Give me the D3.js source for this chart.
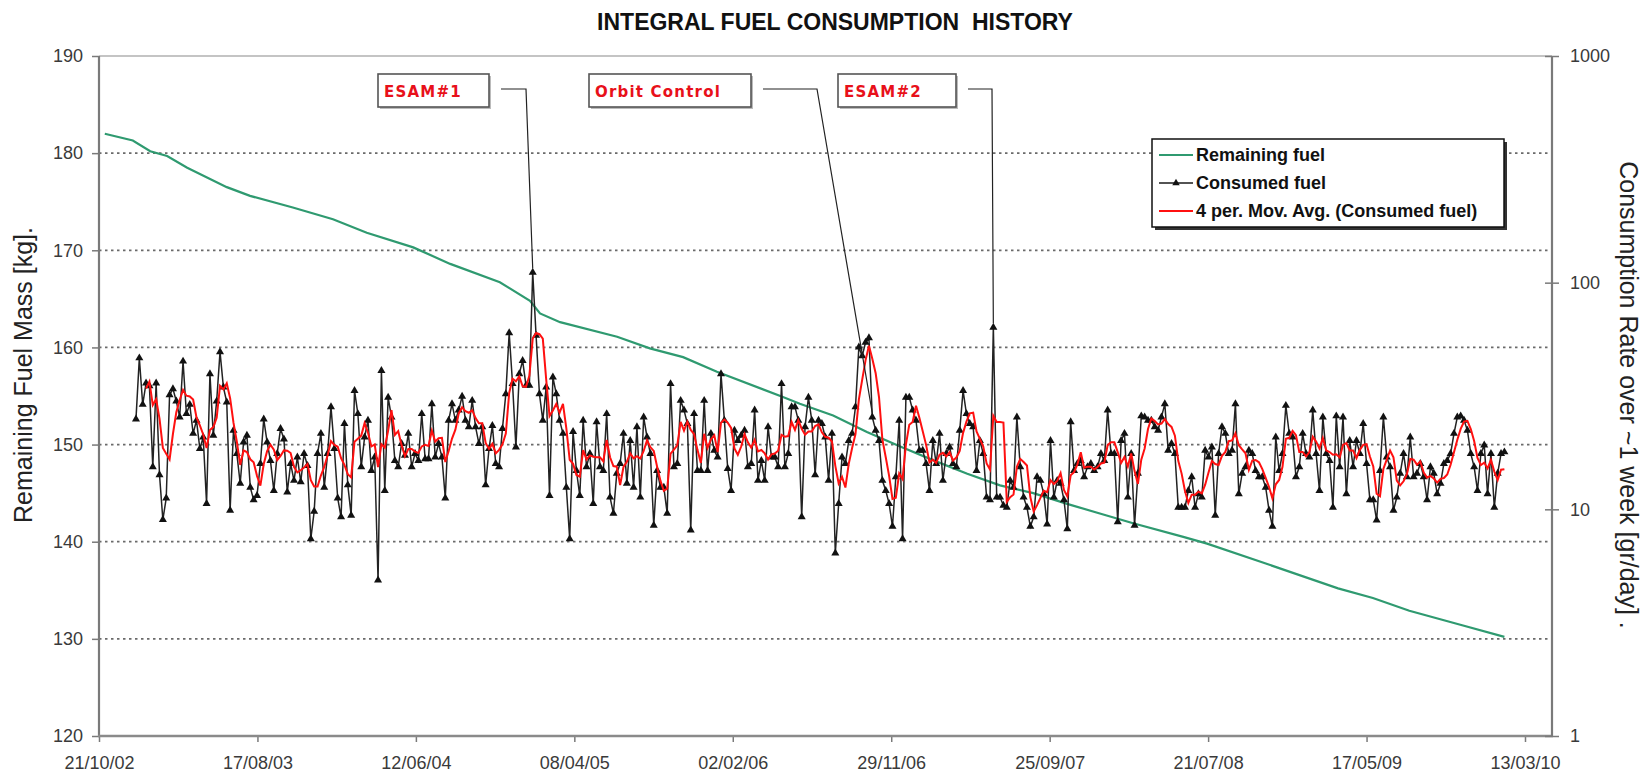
<!DOCTYPE html>
<html><head><meta charset="utf-8">
<script src="https://cdn.jsdelivr.net/npm/d3@7"></script>
<style>
body{margin:0;background:#fff;}
svg{display:block;font-family:"Liberation Sans",Arial,sans-serif;}
</style></head><body>
<svg id="chart" width="1645" height="772"></svg>
<script>
// ---------- DATA ----------
const titleText = "INTEGRAL FUEL CONSUMPTION  HISTORY";
const leftTitle = "Remaining Fuel Mass [kg].";
const rightTitle = "Consumption Rate over ~1 week [gr/day] .";
const leftTicks = [120,130,140,150,160,170,180,190];
const gridValues = [130,140,150,160,170,180];
const rightTicks = [1,10,100,1000];
const xTickLabels = ["21/10/02","17/08/03","12/06/04","08/04/05","02/02/06","29/11/06","25/09/07","21/07/08","17/05/09","13/03/10"];
const seriesNames = ["Remaining fuel","Consumed fuel","4 per. Mov. Avg. (Consumed fuel)"];

const remainingDates = ["2002-11-01","2002-12-24","2003-01-26","2003-02-27","2003-04-06","2003-06-20","2003-08-03","2003-10-23","2004-01-07","2004-03-11","2004-06-07","2004-08-16","2004-11-18","2005-01-14","2005-02-02","2005-03-12","2005-06-28","2005-08-29","2005-10-31","2006-01-03","2006-05-08","2006-06-09","2006-08-11","2006-10-14","2006-12-16","2007-02-16","2007-04-22","2007-06-23","2007-08-25","2007-10-28","2007-12-29","2008-03-01","2008-06-04","2008-07-19","2008-11-10","2009-03-24","2009-05-29","2009-08-06","2009-11-14","2010-02-02"];
const remainingFuel = [182.0,181.3,180.2,179.7,178.5,176.5,175.6,174.4,173.2,171.8,170.3,168.6,166.7,164.8,163.5,162.6,161.1,159.9,159.0,157.5,154.9,154.2,153.0,151.3,149.8,148.4,147.0,145.8,145.0,143.9,142.9,141.9,140.5,139.8,137.7,135.2,134.2,132.9,131.4,130.2];

// consumed fuel readings (gr/day), evenly spaced from first to last reading date
const consumedFirst = "2002-12-30";
const consumedLast = "2010-02-02";
const consumedFuel = [
25.0,46.5,29,36,35,15.4,36,14.2,9.0,11.2,
32,34,30,25.5,45,26.4,29,21.6,24.7,18.5,
20.8,10.6,39.6,21.2,30,49.5,34.6,29.7,9.9,22.3,
17.6,13,19.8,21.2,12.5,11,11.5,15.9,25,19.8,
16.4,12.1,17.6,22.7,20.4,11.9,15.9,13.4,17,13.2,
17.6,15.6,7.4,9.8,17.6,21.6,12.5,17.6,28.3,18.5,
11.2,9.25,23.9,12.8,9.4,33.4,26.4,15.4,20.8,24.7,
14.8,17,4.87,40.9,12.1,31.2,25.5,16.4,15.4,19.5,
17.3,21.6,15.4,17.6,16.4,26.4,16.7,16.7,29.2,17,
19.5,17,11.2,24.7,29.2,24.7,
27.4,31.5,24.7,23.1,30.2,23.1,19.5,23.1,12.8,18.5,
23.4,15.9,15.4,22.7,32.3,60,35.8,18.8,39.6,45.3,
35.2,35.2,111,58.5,32.3,24.7,34.6,11.5,38.3,32.3,
24.7,21.6,12.5,7.4,22,14.8,11.5,24.7,15.4,17.6,
10.6,24.3,15.4,14.8,26.4,11.3,9.6,14.4,15.9,21.6,
13,20.1,12.5,23.1,11.3,25.5,20.8,17.6,8.5,14.8,
12.5,12.5,9.6,35.8,15.4,15.9,30.2,27.4,23.9,8.1,
26.4,14.8,14.8,30.2,14.8,21.6,18.2,17,39.6,24.7,
15.1,12.1,22.3,20.1,21.2,22.3,15.4,15.9,27.4,13.4,
16.4,13.4,23.1,17,17,15.4,35.8,15.4,17.6,28.3,
28.3,24.7,9.25,23.1,31.2,24.7,14.2,24.7,23.9,20.8,
13.4,21.6,6.4,10.6,17,15.9,20.1,21.6,28.3,51.9,
47.5,54.5,57,25.5,22.3,20.1,13.4,12.1,10.6,8.4,
13.9,24.7,7.4,31.2,31.2,27.4,24.7,18.2,18.2,15.9,
12.1,20.1,15.9,21.6,13.4,17.6,18.8,15.9,15.4,22.3,
33.4,26.4,23.9,23.1,14.8,20.1,17.6,11.3,11,63.5,
11.3,11.3,10.4,10.2,13.4,12.5,25.5,15.4,11.3,10.2,
8.4,9.25,13.9,13.4,11.7,8.6,20.1,11.3,13.4,13,
11,8.2,24.3,14.8,15.9,16.4,13.9,15.4,15.9,14.8,
15.4,17.6,16.4,27.4,17.6,17.6,8.8,20.1,21.6,11.3,
17.6,8.5,14.4,25.8,25.5,24.7,
24.7,23.1,22.3,25.5,29.2,18.2,19.5,17.6,10.2,10.2,
10.2,12.1,13.9,10.2,11.7,11.3,18.2,17,18.8,9.4,
17.6,23.1,21.6,17.6,18.2,29.2,11.7,14.4,15.4,18.2,
17.6,14.8,13.9,13.9,12.5,9.9,8.4,20.8,14.8,17.6,
28.7,21.6,20.8,13.9,15.4,21.6,17.6,17,27.4,17.6,
12.1,25.5,17.6,16.4,10.2,25.8,15.4,25.5,11.7,20.1,
15.4,20.1,17.6,23.9,15.9,11,11,8.95,14.8,25.5,
17,15.4,9.9,11.3,14.4,17.6,13.9,20.8,13.9,14.4,
15.9,13.9,11,15.4,14.4,11.7,13,15.9,16.4,17.6,
21.6,25.5,25.8,24.7,22.3,17.6,15.4,12.1,17.6,19.2,
11.7,17.6,10.2,14.4,17.6,17.9
];
const movingAvgPeriod = 4;

// annotation labels and the date window in which their peak lies
const annotationLabels = ["ESAM#1","Orbit Control","ESAM#2"];
const annotationWindows = [["2004-12-20","2005-02-20"],["2006-10-20","2006-12-20"],["2007-05-20","2007-07-01"]];

// ---------- LAYOUT ----------
const svg = d3.select("#chart");
const L = 99, R = 1552, T = 56, B = 736;
const parse = d3.timeParse("%Y-%m-%d");
const parseTick = d3.timeParse("%d/%m/%y");
const tickDates = xTickLabels.map(parseTick);

const x = d3.scaleTime().domain([tickDates[0], tickDates[tickDates.length-1]]).range([L, 1525]);
const yL = d3.scaleLinear().domain([120,190]).range([B, T]);
const yR = d3.scaleLog().domain([1,1000]).range([B, T]);

const green = "#2f9a70", red = "#ff1010";

// consumed dates
const t0 = parse(consumedFirst).getTime(), t1 = parse(consumedLast).getTime();
const n = consumedFuel.length;
const consumed = consumedFuel.map((v,i)=>({date:new Date(t0 + i*(t1-t0)/(n-1)), v}));
const movAvg = consumed.slice(movingAvgPeriod-1).map((d,k)=>({
  date:d.date, v:d3.mean(consumedFuel.slice(k, k+movingAvgPeriod))
}));
const remaining = remainingDates.map((d,i)=>({date:parse(d), v:remainingFuel[i]}));

// title
svg.append("text").attr("x",835).attr("y",30).attr("text-anchor","middle")
  .style("white-space","pre").attr("font-weight","bold").attr("font-size",23).attr("fill","#111")
  .text(titleText);

// gridlines
svg.append("g").selectAll("line").data(gridValues).join("line")
  .attr("x1",L).attr("x2",R).attr("y1",d=>yL(d)).attr("y2",d=>yL(d))
  .attr("stroke","#6a6a6a").attr("stroke-width",1.8).attr("stroke-dasharray","2.5 3.5");
// top border
svg.append("line").attr("x1",L).attr("x2",R).attr("y1",T).attr("y2",T)
  .attr("stroke","#c4c4c4").attr("stroke-width",2);

// left axis
const gL = svg.append("g").attr("transform",`translate(${L},0)`)
  .call(d3.axisLeft(yL).tickValues(leftTicks).tickSize(7).tickSizeOuter(0).tickPadding(9));
gL.select(".domain").remove();
gL.selectAll("line").attr("stroke","#7a7a7a").attr("stroke-width",1.5);
gL.selectAll("text").attr("font-size",18).attr("fill","#3a3a3a").attr("font-family","Liberation Sans, Arial, sans-serif");
svg.append("line").attr("x1",L).attr("x2",L).attr("y1",T).attr("y2",B+1).attr("stroke","#7a7a7a").attr("stroke-width",2.2);

// bottom axis
const gB = svg.append("g").attr("transform",`translate(0,${B})`)
  .call(d3.axisBottom(x).tickValues(tickDates).tickFormat(d3.timeFormat("%d/%m/%y")).tickSize(6).tickSizeOuter(0).tickPadding(14));
gB.select(".domain").remove();
gB.selectAll("line").attr("stroke","#7a7a7a").attr("stroke-width",1.5);
gB.selectAll("text").attr("font-size",18).attr("fill","#3a3a3a").attr("font-family","Liberation Sans, Arial, sans-serif");
svg.append("line").attr("x1",L-1).attr("x2",R+1).attr("y1",B).attr("y2",B).attr("stroke","#8a8a8a").attr("stroke-width",2.6);

// right axis
const gR = svg.append("g").attr("transform",`translate(${R},0)`)
  .call(d3.axisRight(yR).tickValues(rightTicks).tickFormat(d3.format("d")).tickSize(7).tickSizeOuter(0).tickPadding(11));
gR.select(".domain").remove();
gR.selectAll(".tick line").attr("x1",-7).attr("stroke","#7a7a7a").attr("stroke-width",1.5);
gR.selectAll("text").attr("font-size",18).attr("fill","#3a3a3a").attr("font-family","Liberation Sans, Arial, sans-serif");
svg.append("line").attr("x1",R).attr("x2",R).attr("y1",T).attr("y2",B+1).attr("stroke","#7a7a7a").attr("stroke-width",2.2);

// axis titles
svg.append("text").attr("transform","translate(32,375) rotate(-90)").attr("text-anchor","middle")
  .attr("font-size",25).attr("fill","#222").text(leftTitle);
svg.append("text").attr("transform","translate(1620,395) rotate(90)").attr("text-anchor","middle")
  .attr("font-size",25).attr("fill","#222").text(rightTitle);

// series
const lineL = d3.line().x(d=>x(d.date)).y(d=>yL(d.v));
const lineR = d3.line().x(d=>x(d.date)).y(d=>yR(d.v));
svg.append("path").datum(remaining).attr("d",lineL).attr("fill","none").attr("stroke",green).attr("stroke-width",2.2);
svg.append("path").datum(consumed).attr("d",lineR).attr("fill","none").attr("stroke","#222").attr("stroke-width",1.5);
const tri = d3.symbol(d3.symbolTriangle, 28);
svg.append("g").selectAll("path").data(consumed).join("path")
  .attr("d",tri).attr("transform",d=>`translate(${x(d.date)},${yR(d.v)})`).attr("fill","#111");
svg.append("path").datum(movAvg).attr("d",lineR).attr("fill","none").attr("stroke",red).attr("stroke-width",2);

// legend
const lg = svg.append("g").attr("transform","translate(1152,139)");
lg.append("rect").attr("x",3).attr("y",3).attr("width",352).attr("height",88).attr("fill","#333");
lg.append("rect").attr("width",352).attr("height",88).attr("fill","#fff").attr("stroke","#111").attr("stroke-width",1.5);
const rowsY = [16,44,72];
const legColors = [green,"#1a1a1a",red];
seriesNames.forEach((name,i)=>{
  lg.append("line").attr("x1",7).attr("x2",41).attr("y1",rowsY[i]).attr("y2",rowsY[i])
    .attr("stroke",legColors[i]).attr("stroke-width",i===1?1.5:2);
  if(i===1) lg.append("path").attr("d",d3.symbol(d3.symbolTriangle,24)()).attr("transform",`translate(24,${rowsY[i]})`).attr("fill","#111");
  lg.append("text").attr("x",44).attr("y",rowsY[i]).attr("dy","0.35em").attr("font-size",18)
    .attr("font-weight","bold").attr("fill","#111").text(name);
});

// annotations
const boxes = [{x:378,w:111,kink:37},{x:589,w:162,kink:66},{x:838,w:118,kink:36}];
annotationLabels.forEach((lab,i)=>{
  const [a,b] = annotationWindows[i].map(parse);
  const pts = consumed.filter(d=>d.date>=a && d.date<=b);
  const pk = pts.reduce((m,d)=>d.v>m.v?d:m, pts[0]);
  const px = x(pk.date), py = yR(pk.v) - 4;
  const bx = boxes[i];
  const ly = 89;
  svg.append("path").attr("d",`M${bx.x+bx.w+12},${ly}H${bx.x+bx.w+bx.kink}L${px},${py}`)
    .attr("fill","none").attr("stroke","#222").attr("stroke-width",1.2);
  svg.append("rect").attr("x",bx.x+2).attr("y",76).attr("width",bx.w).attr("height",33).attr("fill","#bbb");
  svg.append("rect").attr("x",bx.x).attr("y",74).attr("width",bx.w).attr("height",33)
    .attr("fill","#fff").attr("stroke","#555").attr("stroke-width",1.6);
  svg.append("text").attr("x",bx.x+6).attr("y",97).attr("font-size",15).attr("font-weight","bold")
    .attr("letter-spacing","1.2px").attr("fill","#e8101a")
    .attr("font-family","'Comic Sans MS','DejaVu Sans',sans-serif").text(lab);
});
</script>
</body></html>
